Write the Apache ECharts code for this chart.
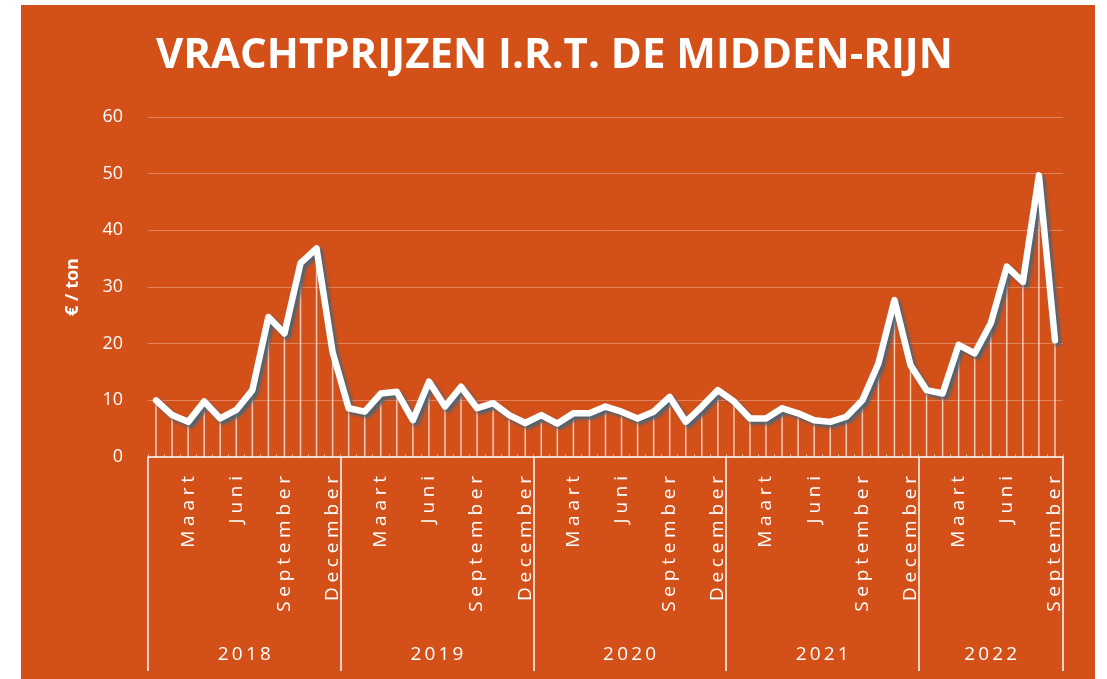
<!DOCTYPE html>
<html>
<head>
<meta charset="utf-8">
<script src="https://cdn.jsdelivr.net/npm/echarts@6/dist/echarts.min.js"></script>
<style>
html,body{margin:0;padding:0;background:#fff;width:1107px;height:679px;overflow:hidden;}
#c{position:absolute;left:21px;top:5px;width:1074px;height:674px;background:#D35019;}
</style>
</head>
<body>
<div id="c"></div>
<script>
// ---- data ----
const monthNames = ['Januari','Februari','Maart','April','Mei','Juni','Juli','Augustus','September','Oktober','November','December'];
const years = ['2018','2019','2020','2021','2022'];
const monthsPerYear = [12,12,12,12,9];
const prices2018 = [10.0,7.4,6.2,9.8,6.8,8.3,11.8,24.7,21.8,34.2,36.8,18.5];
const prices2019 = [8.6,8.0,11.2,11.5,6.5,13.3,8.9,12.4,8.6,9.5,7.4,6.0];
const prices2020 = [7.4,5.9,7.7,7.7,8.9,8.0,6.8,8.0,10.6,6.2,8.9,11.8];
const prices2021 = [9.8,6.8,6.8,8.6,7.7,6.5,6.2,7.1,10.0,16.5,27.7,16.2];
const prices2022 = [11.8,11.2,19.8,18.3,23.6,33.6,30.9,49.7,20.6];
const yTicks = [0,10,20,30,40,50,60];

// ---- build ----
const values = [].concat(prices2018,prices2019,prices2020,prices2021,prices2022);
const categories = [];
years.forEach((y,i)=>{ for(let m=0;m<monthsPerYear[i];m++) categories.push(monthNames[m]); });
const boundaries = [0]; const centers = [];
monthsPerYear.forEach(n=>{ const s=boundaries[boundaries.length-1]; centers.push(s+n/2); boundaries.push(s+n); });
const total = boundaries[boundaries.length-1];
const shownMonths = ['Maart','Juni','September','December'];
const spaced = (s, sep) => s.split('').join(sep);

const chart = echarts.init(document.getElementById('c'));
const font = '"Open Sans", "Noto Sans", sans-serif';
chart.setOption({
  backgroundColor: '#D35019',
  animation: false,
  title: {
    text: 'VRACHTPRIJZEN I.R.T. DE MIDDEN-RIJN',
    left: 130, top: 25,
    textStyle: { color: '#fff', fontFamily: font, fontWeight: 'bold', fontSize: 42 }
  },
  grid: { left: 127, right: 32, top: 112, bottom: 222 },
  xAxis: [{
    type: 'category',
    data: categories,
    boundaryGap: true,
    axisLine: { lineStyle: { color: '#fff', width: 1.5 } },
    axisTick: { show: true, inside: true, length: 3, interval: 0, lineStyle: { color: 'rgba(255,255,255,0.5)' } },
    axisLabel: {
      interval: 0, rotate: 90, color: '#fff', fontFamily: font, fontSize: 19, margin: 19,
      formatter: v => shownMonths.indexOf(v) >= 0 ? spaced(v, '\u2005') : ''
    },
    splitLine: { show: false }
  }, {
    type: 'value',
    position: 'bottom',
    min: 0, max: total,
    axisLine: { show: false },
    splitLine: { show: false },
    axisTick: { show: true, length: 214, customValues: boundaries, lineStyle: { color: '#fff', width: 1.5 } },
    axisLabel: {
      show: true, customValues: centers, margin: 188, color: '#fff', fontFamily: font, fontSize: 19,
      formatter: v => { const i = centers.indexOf(v); return i >= 0 ? spaced(years[i], '\u2009') : ''; }
    }
  }],
  yAxis: {
    type: 'value', min: yTicks[0], max: yTicks[yTicks.length-1], interval: 10,
    name: '€ / ton', nameLocation: 'middle', nameGap: 66, nameRotate: 90,
    nameTextStyle: { color: '#fff', fontFamily: font, fontWeight: 'bold', fontSize: 18 },
    axisLine: { show: false }, axisTick: { show: false },
    axisLabel: { color: '#fff', fontFamily: font, fontSize: 18, margin: 25 },
    splitLine: { lineStyle: { color: 'rgba(255,255,255,0.3)', width: 1 } }
  },
  series: [{
    type: 'bar', data: values, barWidth: 1.5, z: 1,
    itemStyle: { color: 'rgba(255,255,255,0.7)' }, silent: true
  }, {
    type: 'line', data: values, symbol: 'none', z: 3,
    lineStyle: { color: '#fff', width: 6.5, shadowColor: 'rgba(75,100,118,0.95)', shadowBlur: 3, shadowOffsetX: 3, shadowOffsetY: 3, join: 'round', cap: 'round' }
  }]
});
</script>
</body>
</html>
